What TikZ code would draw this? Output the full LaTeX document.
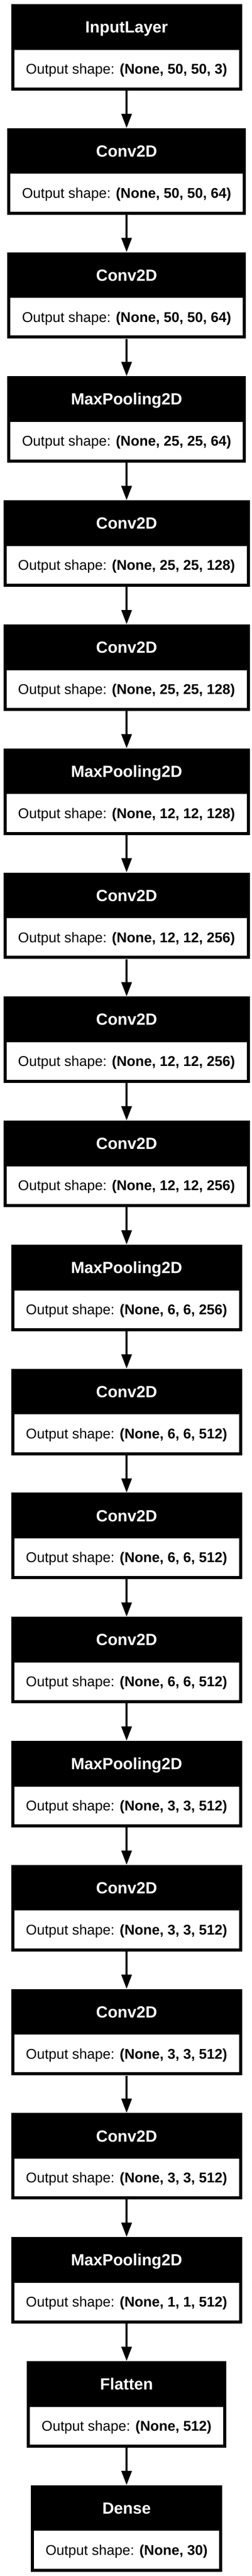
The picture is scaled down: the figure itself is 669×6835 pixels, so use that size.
\documentclass[tikz,border=0pt]{standalone}
\usepackage{fontspec}
\setmainfont{Liberation Sans}
\usetikzlibrary{arrows.meta,fit,backgrounds}
\newcommand\bodyfnt{\fontsize{37.5pt}{45pt}\selectfont}
\newcommand\titlefnt{\fontsize{42.9pt}{51pt}\selectfont\bfseries}
\tikzset{
  layerbox/.style={fill=black, draw=none, inner sep=0pt},
  shapebox/.style={fill=white, draw=none, text=black, font=\bodyfnt,
    inner xsep=31pt, inner ysep=0pt, text height=64pt, text depth=36pt, anchor=north},
  titletext/.style={text=white, font=\titlefnt, inner sep=0pt, anchor=base},
  flow/.style={line width=6pt, -{Triangle[length=38pt,width=27pt]}},
}
\newcommand\nnlayer[4]{%
  \node[shapebox] (#1w) at (336.5pt,{-#2pt-121pt}) {Output shape: \textbf{#4}};
  \node[titletext] (#1t) at ([yshift=45pt]#1w.north) {#3};
  \begin{pgfonlayer}{background}
    \node[layerbox, fit={([xshift=-8pt,yshift=-8pt]#1w.south west) ([xshift=8pt,yshift=121pt]#1w.north east)}] (#1) {};
  \end{pgfonlayer}
}
\begin{document}
\begin{tikzpicture}
\begin{pgfonlayer}{background}
\fill[white] (0pt,0pt) rectangle (669pt,-6835pt);
\end{pgfonlayer}
\useasboundingbox (0pt,0pt) rectangle (669pt,-6835pt);
\nnlayer{L0}{11}{InputLayer}{(None, 50, 50, 3)}
\nnlayer{L1}{340.15}{Conv2D}{(None, 50, 50, 64)}
\nnlayer{L2}{669.3}{Conv2D}{(None, 50, 50, 64)}
\nnlayer{L3}{998.45}{MaxPooling2D}{(None, 25, 25, 64)}
\nnlayer{L4}{1327.6}{Conv2D}{(None, 25, 25, 128)}
\nnlayer{L5}{1656.75}{Conv2D}{(None, 25, 25, 128)}
\nnlayer{L6}{1985.9}{MaxPooling2D}{(None, 12, 12, 128)}
\nnlayer{L7}{2315.05}{Conv2D}{(None, 12, 12, 256)}
\nnlayer{L8}{2644.2}{Conv2D}{(None, 12, 12, 256)}
\nnlayer{L9}{2973.35}{Conv2D}{(None, 12, 12, 256)}
\nnlayer{L10}{3302.5}{MaxPooling2D}{(None, 6, 6, 256)}
\nnlayer{L11}{3631.65}{Conv2D}{(None, 6, 6, 512)}
\nnlayer{L12}{3960.8}{Conv2D}{(None, 6, 6, 512)}
\nnlayer{L13}{4289.95}{Conv2D}{(None, 6, 6, 512)}
\nnlayer{L14}{4619.1}{MaxPooling2D}{(None, 3, 3, 512)}
\nnlayer{L15}{4948.25}{Conv2D}{(None, 3, 3, 512)}
\nnlayer{L16}{5277.4}{Conv2D}{(None, 3, 3, 512)}
\nnlayer{L17}{5606.55}{Conv2D}{(None, 3, 3, 512)}
\nnlayer{L18}{5935.7}{MaxPooling2D}{(None, 1, 1, 512)}
\nnlayer{L19}{6264.85}{Flatten}{(None, 512)}
\nnlayer{L20}{6594}{Dense}{(None, 30)}
\foreach \i in {0,...,19}{
  \pgfmathtruncatemacro\j{\i+1}
  \draw[flow] (L\i.south) -- (L\j.north);
}
\end{tikzpicture}
\end{document}
